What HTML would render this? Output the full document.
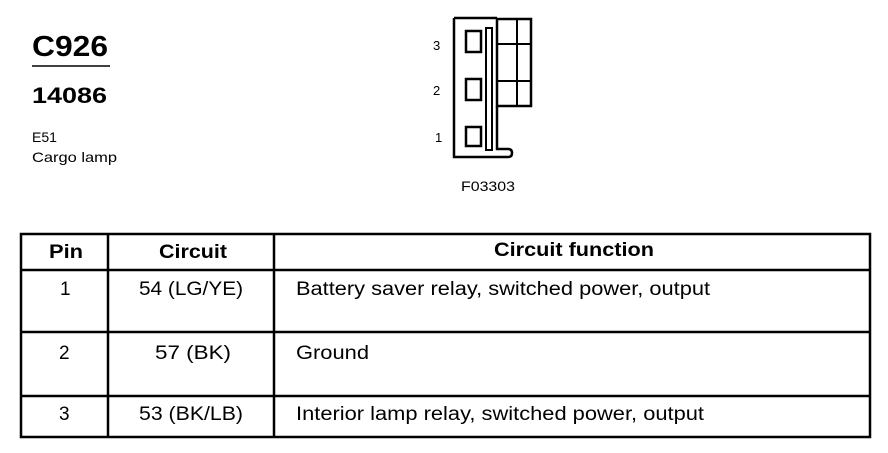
<!DOCTYPE html>
<html><head><style>
body{margin:0;background:#fff;width:888px;height:448px;overflow:hidden;font-family:"Liberation Sans",Arial,sans-serif;}
</style></head><body>
<svg width="888" height="448" xmlns="http://www.w3.org/2000/svg" font-family="Liberation Sans, Arial, sans-serif">
<text x="32" y="56" font-size="29" font-weight="bold" fill="#000" textLength="76" lengthAdjust="spacingAndGlyphs">C926</text>
<line x1="32" y1="66" x2="110" y2="66" stroke="#000" stroke-width="1.5"/>
<text x="32" y="103" font-size="22" font-weight="bold" fill="#000" textLength="75" lengthAdjust="spacingAndGlyphs">14086</text>
<text x="32" y="142" font-size="14" fill="#000" textLength="25" lengthAdjust="spacingAndGlyphs">E51</text>
<text x="32" y="162" font-size="14" fill="#000" textLength="85" lengthAdjust="spacingAndGlyphs">Cargo lamp</text>

<g stroke="#000" fill="none" stroke-width="2.5">
<path d="M454 18 H497 M454 18 V157 H508 Q512 157 512 153 Q512 149 508 149 H497 V106"/>
<rect x="497" y="19" width="34" height="87"/>
<line x1="497" y1="44" x2="531" y2="44" stroke-width="2"/>
<line x1="497" y1="81" x2="531" y2="81" stroke-width="2"/>
<line x1="517" y1="19" x2="517" y2="106" stroke-width="2"/>
<rect x="486" y="28" width="6" height="122" stroke-width="2"/>
<rect x="466" y="31" width="15" height="21"/>
<rect x="466" y="79" width="15" height="21"/>
<rect x="466" y="127" width="15" height="19"/>
</g>
<text x="433" y="50" font-size="13">3</text>
<text x="433" y="95" font-size="13">2</text>
<text x="435" y="142" font-size="13">1</text>
<text x="461" y="191" font-size="14" textLength="54" lengthAdjust="spacingAndGlyphs">F03303</text>

<g font-size="19" fill="#000">
<text x="49" y="258" font-weight="bold" textLength="34" lengthAdjust="spacingAndGlyphs">Pin</text>
<text x="159" y="258" font-weight="bold" textLength="68" lengthAdjust="spacingAndGlyphs">Circuit</text>
<text x="494" y="256" font-weight="bold" textLength="160" lengthAdjust="spacingAndGlyphs">Circuit function</text>
<text x="60" y="295">1</text>
<text x="139" y="295" textLength="104" lengthAdjust="spacingAndGlyphs">54 (LG/YE)</text>
<text x="296" y="295" textLength="414" lengthAdjust="spacingAndGlyphs">Battery saver relay, switched power, output</text>
<text x="59" y="359">2</text>
<text x="155" y="359" textLength="76" lengthAdjust="spacingAndGlyphs">57 (BK)</text>
<text x="296" y="359" textLength="73" lengthAdjust="spacingAndGlyphs">Ground</text>
<text x="59" y="420">3</text>
<text x="139" y="420" textLength="104" lengthAdjust="spacingAndGlyphs">53 (BK/LB)</text>
<text x="296" y="420" textLength="408" lengthAdjust="spacingAndGlyphs">Interior lamp relay, switched power, output</text>
</g>
<g stroke="#000" stroke-width="2.5" fill="none">
<rect x="21" y="234" width="849" height="203"/>
<line x1="21" y1="270" x2="870" y2="270"/>
<line x1="21" y1="332" x2="870" y2="332"/>
<line x1="21" y1="396" x2="870" y2="396"/>
<line x1="108" y1="234" x2="108" y2="437"/>
<line x1="274" y1="234" x2="274" y2="437"/>
</g>
</svg>
</body></html>
